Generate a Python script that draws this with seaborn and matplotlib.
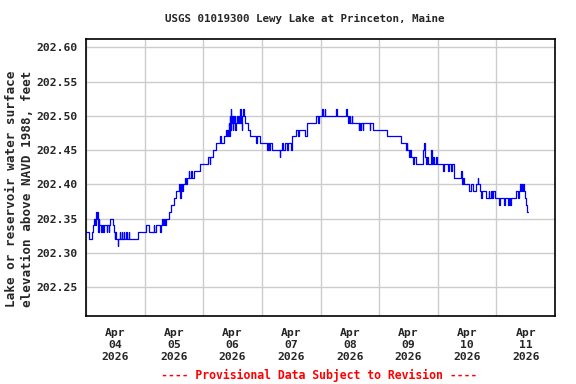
import matplotlib
matplotlib.use("Agg")
import matplotlib.pyplot as plt
import matplotlib.dates as mdates
import matplotlib.ticker as mticker
import numpy as np
import pandas as pd
import seaborn as sns

# ---- data: change points (hours since 2026-04-04 00:00) and water level (ft)
hours = [
    0, 1.1, 2.5, 3.0, 3.4, 3.7, 3.9, 4.1, 4.4, 4.6, 4.8, 5.0, 5.2, 5.5, 6.3, 6.5,
    7.1, 7.3, 8.5, 8.7, 9.4, 9.6, 10.0, 11.2, 11.5, 11.8, 12.0, 12.2, 12.9, 13.2,
    13.8, 14.0, 14.6, 14.8, 15.4, 15.6, 16.4, 16.6, 17.6, 17.8, 21.1,
    24.7, 25.6, 27.7, 28.0, 28.5, 30.1, 30.5, 31.2, 31.4, 31.8, 32.3, 32.6, 33.9,
    34.9, 35.9, 37.0, 37.9, 38.5, 38.8, 39.3, 39.8, 40.4, 40.8, 41.2, 42.0, 42.3,
    43.0, 43.3, 44.2, 46.5,
    49.9, 50.6, 50.9, 51.9, 53.3, 55.0, 55.3, 56.5, 57.2, 57.6, 58.1, 58.4, 58.6,
    58.8, 59.1, 59.3, 59.5, 59.8, 60.1, 60.3, 60.6, 60.9, 61.2, 61.4, 61.8, 62.1,
    62.5, 62.8, 63.2, 63.4, 63.7, 64.0, 64.4, 64.8, 65.2, 66.3, 67.0, 69.7, 70.1,
    71.1,
    74.2, 74.6, 75.0, 75.3, 76.3, 79.3, 79.6, 80.2, 80.6, 81.6, 82.3, 82.6, 84.0,
    84.4, 86.1, 86.6, 87.0, 89.5, 90.6, 94.3, 95.0, 95.5,
    96.7, 97.0, 97.8, 98.0, 102.2, 102.7, 106.6, 106.9, 107.1, 107.7, 107.9, 108.9,
    109.1, 111.6, 111.9, 112.3, 112.6, 113.3, 113.6, 116.1, 116.4, 117.5,
    123.2, 128.8, 130.9, 131.3, 131.6, 132.4, 132.7, 133.0, 134.0, 134.3, 135.0,
    137.8, 138.2, 138.6, 139.0, 139.8, 140.1, 141.1, 141.6, 142.2, 142.6, 143.2,
    143.6,
    146.1, 146.4, 148.3, 148.6, 149.6, 149.9, 150.5, 153.7, 154.0, 154.3, 154.6,
    156.8, 157.8, 158.3, 159.8, 160.3, 160.6, 161.4, 161.8, 162.2, 163.9, 164.8,
    165.1, 165.8, 166.3, 166.6, 167.3,
    169.0, 169.4, 171.0, 171.4, 172.6, 173.0, 173.7, 174.0, 176.2, 176.8, 177.1,
    177.5, 177.9, 178.2, 178.6, 178.9, 179.4, 179.7, 180.0, 180.4, 180.8,
]
level = [
    202.33, 202.32, 202.33, 202.34, 202.35, 202.34, 202.35, 202.36, 202.35, 202.36,
    202.34, 202.33, 202.35, 202.34, 202.33, 202.34, 202.33, 202.34, 202.33, 202.34,
    202.33, 202.34, 202.35, 202.34, 202.33, 202.32, 202.33, 202.32, 202.31, 202.32,
    202.33, 202.32, 202.33, 202.32, 202.33, 202.32, 202.33, 202.32, 202.33, 202.32,
    202.33,
    202.34, 202.33, 202.34, 202.33, 202.34, 202.33, 202.34, 202.35, 202.34, 202.35,
    202.34, 202.35, 202.36, 202.37, 202.38, 202.39, 202.40, 202.38, 202.40, 202.39,
    202.40, 202.41, 202.40, 202.41, 202.42, 202.41, 202.42, 202.41, 202.42, 202.43,
    202.44, 202.43, 202.44, 202.45, 202.46, 202.47, 202.46, 202.47, 202.48, 202.47,
    202.48, 202.49, 202.47, 202.50, 202.48, 202.51, 202.49, 202.50, 202.48, 202.50,
    202.49, 202.50, 202.48, 202.49, 202.50, 202.49, 202.50, 202.49, 202.51, 202.49,
    202.48, 202.50, 202.51, 202.50, 202.49, 202.48, 202.47, 202.46, 202.47, 202.46,
    202.45, 202.46, 202.45, 202.46, 202.45, 202.44, 202.45, 202.46, 202.45, 202.46,
    202.45, 202.46, 202.45, 202.47, 202.48, 202.47, 202.48, 202.47, 202.49, 202.50,
    202.49, 202.50,
    202.51, 202.50, 202.51, 202.50, 202.51, 202.50, 202.51, 202.50, 202.49, 202.50,
    202.49, 202.50, 202.49, 202.48, 202.49, 202.48, 202.49, 202.48, 202.49, 202.48,
    202.49, 202.48,
    202.47, 202.46, 202.45, 202.46, 202.45, 202.44, 202.45, 202.44, 202.43, 202.44,
    202.43, 202.45, 202.46, 202.44, 202.43, 202.44, 202.43, 202.45, 202.43, 202.44,
    202.43, 202.44, 202.43,
    202.42, 202.43, 202.42, 202.43, 202.42, 202.43, 202.41, 202.42, 202.40, 202.41,
    202.40, 202.39, 202.40, 202.39, 202.40, 202.41, 202.40, 202.39, 202.38, 202.39,
    202.38, 202.39, 202.38, 202.39, 202.38, 202.39, 202.38,
    202.37, 202.38, 202.37, 202.38, 202.37, 202.38, 202.37, 202.38, 202.39, 202.38,
    202.39, 202.40, 202.39, 202.40, 202.39, 202.40, 202.39, 202.38, 202.37, 202.36,
    202.36,
]
y_ticks = [202.25, 202.30, 202.35, 202.40, 202.45, 202.50, 202.55, 202.60]
title = "USGS 01019300 Lewy Lake at Princeton, Maine"
ylabel = "Lake or reservoir water surface\nelevation above NAVD 1988, feet"
footer = "---- Provisional Data Subject to Revision ----"

sns.set_theme(style="white")
plt.rcParams["font.family"] = ["DejaVu Sans Mono", "DejaVu Sans"]

start = pd.Timestamp("2026-04-04 00:00")
times = start + pd.to_timedelta(hours, unit="h")
df = pd.DataFrame({"time": times, "level": level})

fig = plt.figure(figsize=(5.76, 3.84), dpi=100)
fig.patch.set_facecolor("white")
ax = fig.add_axes([86 / 576, 1 - 316 / 384, (555 - 86) / 576, (316 - 39) / 384])

sns.lineplot(data=df, x="time", y="level", ax=ax, drawstyle="steps-post",
             color="#0000ff", linewidth=0.9, estimator=None)

ax.set_xlim(start, start + pd.Timedelta(days=8))
ax.set_ylim(202.208, 202.612)

ax.xaxis.set_major_locator(mdates.DayLocator())
ax.xaxis.set_major_formatter(mticker.NullFormatter())
ax.xaxis.set_minor_locator(mdates.HourLocator(byhour=[12]))
ax.xaxis.set_minor_formatter(mdates.DateFormatter("%b\n%d\n%Y"))
ax.set_yticks(y_ticks)
ax.yaxis.set_major_formatter(mticker.FormatStrFormatter("%.2f"))

ax.grid(True, which="major", color="#cccccc", linewidth=1.0)
ax.set_axisbelow(True)
ax.tick_params(axis="both", which="both", length=0)
ax.tick_params(axis="y", pad=6, labelsize=8.2)
ax.tick_params(axis="x", which="minor", pad=9, labelsize=8.2)
for lbl in ax.get_yticklabels() + ax.xaxis.get_minorticklabels():
    lbl.set_fontweight("bold")
for s in ax.spines.values():
    s.set_color("black")
    s.set_linewidth(1.2)
ax.set_xlabel("")
ax.set_ylabel("")

fig.text(305 / 576, 1 - 19 / 384, title, ha="center", va="center",
         fontsize=7.8, fontweight="bold")
fig.text(20 / 576, 1 - 189 / 384, ylabel, ha="center", va="center",
         rotation=90, fontsize=9.1, fontweight="bold", linespacing=1.3,
         multialignment="center")
fig.text(319 / 576, 1 - 375 / 384, footer, ha="center", va="center",
         fontsize=8.3, fontweight="bold", color="red")

fig.savefig("out.png", dpi=100)
